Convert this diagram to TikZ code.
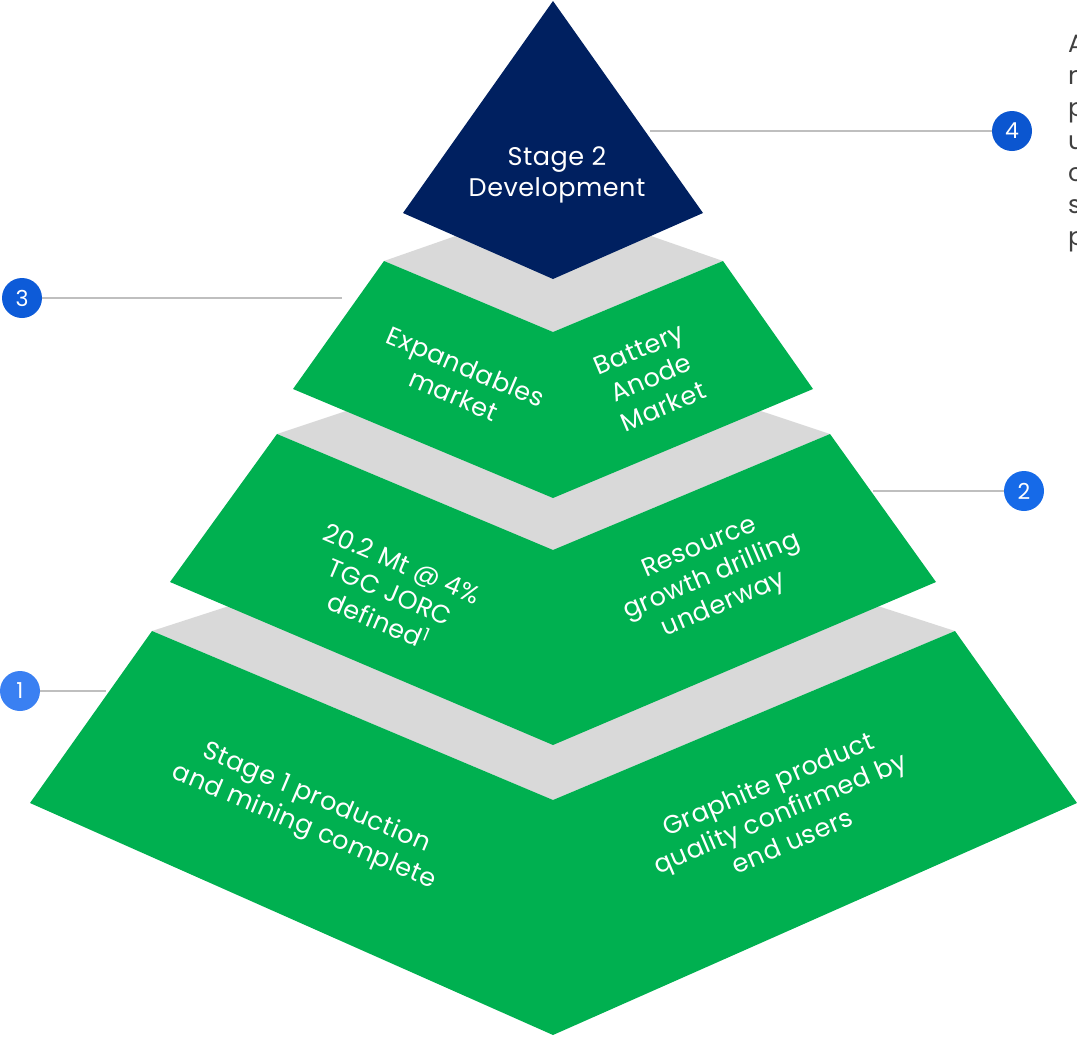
\documentclass[tikz,border=0pt]{standalone}
\usepackage{fontspec}
\setmainfont{Poppins}[LetterSpace=2]
\definecolor{tiergreen}{HTML}{00B050}
\definecolor{tipnavy}{HTML}{002060}
\definecolor{bandgrey}{HTML}{D9D9D9}
\definecolor{leadgrey}{HTML}{BFBFBF}
\definecolor{dotone}{HTML}{3A80F2}
\definecolor{dottwo}{HTML}{166AE8}
\definecolor{dotthree}{HTML}{0D5BD8}
\definecolor{dotfour}{HTML}{0B56D0}
\definecolor{sidetext}{HTML}{404040}

\begin{document}
\begin{tikzpicture}[x=1pt,y=-1pt,
  tierlabel/.style={text=white,align=center,font=\fontsize{25.5}{31}\selectfont,inner sep=0pt},
  numdot/.style={circle,minimum size=40pt,inner sep=0pt,text=white,font=\fontsize{22}{22}\selectfont},
  leader/.style={draw=leadgrey,line width=2pt}]
\useasboundingbox (0,0) rectangle (1077,1037);
% ---- grey bands behind each tier ----
\fill[bandgrey] (152,631) -- (553,501) -- (955,631) -- (553,800) -- cycle;
% ---- tier 1 ----
\fill[tiergreen] (152,631) -- (553,800) -- (955,631) -- (1077,803) -- (553,1035) -- (30,803) -- cycle;
\fill[bandgrey] (277,434) -- (553,342) -- (830,434) -- (553,550) -- cycle;
% ---- tier 2 ----
\fill[tiergreen] (277,434) -- (553,550) -- (830,434) -- (936,582) -- (553,745) -- (170,582) -- cycle;
\fill[bandgrey] (384,261) -- (553,202) -- (723,261) -- (553,332) -- cycle;
% ---- tier 3 ----
\fill[tiergreen] (384,261) -- (553,332) -- (723,261) -- (813,389) -- (553,498) -- (293,389) -- cycle;
% ---- tip (stage 2) ----
\fill[tipnavy] (553,1) -- (703,213) -- (553,279) -- (403,213) -- cycle;
\node[tierlabel] (tip) at (557,175) {Stage 2\\Development};
% ---- tier texts ----
\node[tierlabel,rotate=-23] (expand) at (460,381) {Expandables\\market};
\node[tierlabel,rotate=23] (anode) at (651,378) {Battery\\Anode\\Market};
\node[tierlabel,rotate=-23] (jorc) at (390,592) {20.2 Mt @ 4\%\\TGC JORC\\defined\textsuperscript{1}};
\node[tierlabel,rotate=23] (drill) at (712,577) {Resource\\growth drilling\\underway};
\node[tierlabel,rotate=-23] (stageone) at (310,813) {Stage 1 production\\and mining complete};
\node[tierlabel,rotate=23] (quality) at (780,812) {Graphite product\\quality confirmed by\\end users};
% ---- numbered markers and leaders ----
\node[numdot,fill=dotfour] (n4) at (1012,131) {4};
\node[numdot,fill=dotthree] (n3) at (22,298) {3};
\node[numdot,fill=dottwo] (n2) at (1024,491) {2};
\node[numdot,fill=dotone] (n1) at (20,691) {1};
\coordinate (l4) at (650,131);
\coordinate (l3) at (342,298);
\coordinate (l2) at (873,491);
\coordinate (l1) at (106,691);
\draw[leader] (l4) -- (n4);
\draw[leader] (n3) -- (l3);
\draw[leader] (l2) -- (n2);
\draw[leader] (n1) -- (l1);
% ---- side text, cut at the page edge ----
\node[anchor=north west,align=left,text=sidetext,inner sep=0pt,
  font=\fontsize{25}{32.2}\selectfont] (side) at (1068,35) {A\\n\\p\\u\\c\\s\\p};
\end{tikzpicture}
\end{document}
